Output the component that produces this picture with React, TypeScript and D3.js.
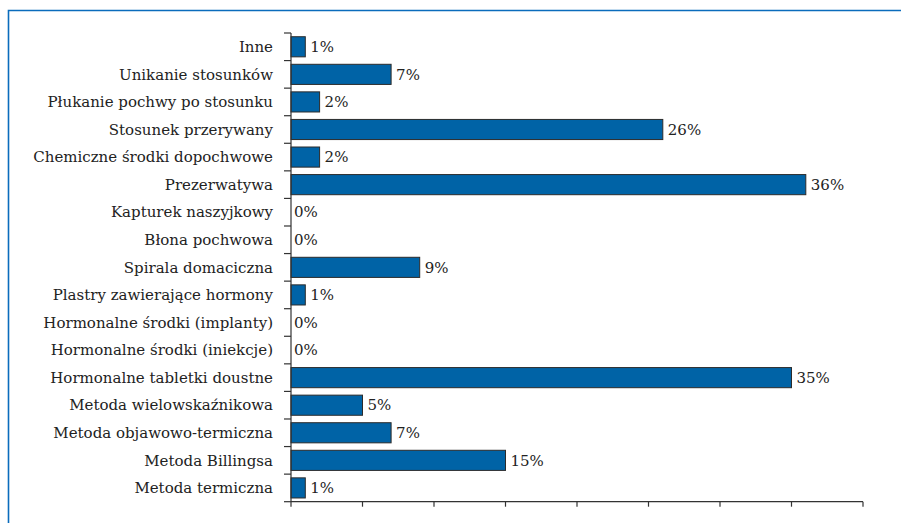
import React from "react";
import * as d3 from "d3";

const categories = [
  "Inne",
  "Unikanie stosunków",
  "Płukanie pochwy po stosunku",
  "Stosunek przerywany",
  "Chemiczne środki dopochwowe",
  "Prezerwatywa",
  "Kapturek naszyjkowy",
  "Błona pochwowa",
  "Spirala domaciczna",
  "Plastry zawierające hormony",
  "Hormonalne środki (implanty)",
  "Hormonalne środki (iniekcje)",
  "Hormonalne tabletki doustne",
  "Metoda wielowskaźnikowa",
  "Metoda objawowo-termiczna",
  "Metoda Billingsa",
  "Metoda termiczna",
];
const values = [1, 7, 2, 26, 2, 36, 0, 0, 9, 1, 0, 0, 35, 5, 7, 15, 1];
const xTicks = [0, 5, 10, 15, 20, 25, 30, 35, 40];

const W = 901;
const H = 523;
const left = 291;
const right = 863;
const top = 33;
const bottom = 501.7;

export default function App() {
  const x = d3.scaleLinear().domain([0, 40]).range([left, right]);
  const y = d3
    .scaleBand<string>()
    .domain(categories)
    .range([top, bottom])
    .paddingInner(0.27)
    .paddingOuter(0.135);
  const step = y.step();
  const font = "'DejaVu Serif', serif";
  const axisColor = "#333";
  const textStyle = { fontFamily: font, fontSize: "15px" } as React.CSSProperties;
  return (
    <svg
      width={W}
      height={H}
      style={{ position: "absolute", left: 0, top: 0, background: "#fff" }}
    >
      <rect x={0} y={0} width={W} height={H} fill="#fff" />
      <path d={`M8.5,${H} V10.5 H${W}`} fill="none" stroke="#0a6cbc" strokeWidth={1.6} />
      {categories.map((c, i) => {
        const v = values[i];
        const by = y(c)!;
        const bw = x(v) - x(0);
        return (
          <g key={c}>
            {v > 0 && (
              <rect
                x={x(0)}
                y={by}
                width={bw}
                height={y.bandwidth()}
                fill="#0063a6"
                stroke="#2b2b2b"
                strokeWidth={1}
              />
            )}
            <text
              x={x(v) + (v > 0 ? 5 : 3)}
              y={by + y.bandwidth() / 2}
              dy="0.35em"
              style={textStyle}
              fill="#222"
            >
              {v}%
            </text>
            <text
              x={left - 18}
              y={by + y.bandwidth() / 2}
              dy="0.35em"
              style={textStyle}
              fill="#222"
              textAnchor="end"
            >
              {c}
            </text>
          </g>
        );
      })}
      <line x1={left} x2={left} y1={top} y2={bottom} stroke={axisColor} strokeWidth={1.2} />
      {d3.range(categories.length + 1).map((i) => (
        <line
          key={"yt" + i}
          x1={left - 7}
          x2={left}
          y1={top + i * step}
          y2={top + i * step}
          stroke={axisColor}
          strokeWidth={1.2}
        />
      ))}
      <line x1={left} x2={right} y1={bottom} y2={bottom} stroke={axisColor} strokeWidth={1.2} />
      {xTicks.map((t) => (
        <line
          key={"xt" + t}
          x1={x(t)}
          x2={x(t)}
          y1={bottom}
          y2={bottom + 5}
          stroke={axisColor}
          strokeWidth={1.2}
        />
      ))}
    </svg>
  );
}
